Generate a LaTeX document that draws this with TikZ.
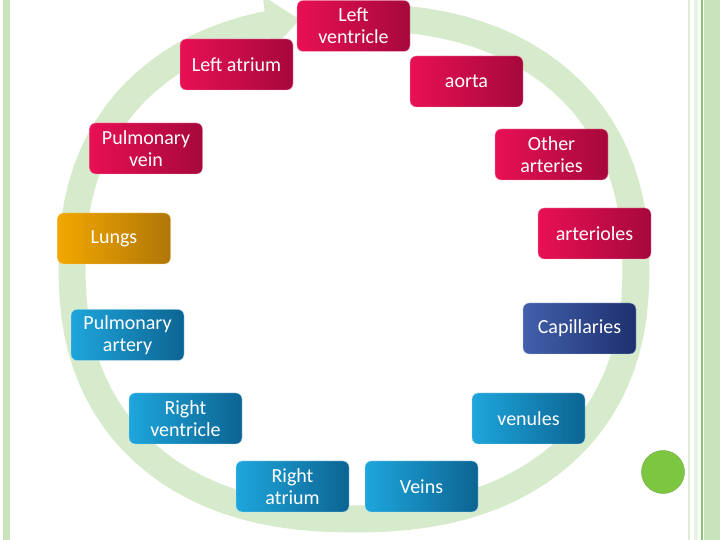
\documentclass[tikz,border=0pt]{standalone}
\usepackage{fontspec}
\setmainfont{Carlito}
\usepackage{tikz}
\usetikzlibrary{arrows.meta}
\definecolor{ringgreen}{RGB}{214,235,203}
\definecolor{stripegreen}{RGB}{201,227,188}
\definecolor{linegreen}{RGB}{136,196,106}
\definecolor{dotgreen}{RGB}{125,198,66}
\definecolor{artlight}{RGB}{232,16,84}
\definecolor{artdark}{RGB}{166,8,60}
\definecolor{venlight}{RGB}{30,166,220}
\definecolor{vendark}{RGB}{12,100,146}
\definecolor{caplight}{RGB}{66,96,172}
\definecolor{capdark}{RGB}{30,48,110}
\definecolor{lunglight}{RGB}{242,168,0}
\definecolor{lungdark}{RGB}{176,118,8}
\tikzstyle{organ}=[rectangle, rounded corners=6bp, minimum width=113bp, minimum height=51bp,
inner sep=0pt, align=center, text=white, font=\fontsize{20bp}{22bp}\selectfont]
\tikzstyle{artbox}=[organ, left color=artlight, right color=artdark, draw=artlight!35!white]
\tikzstyle{venbox}=[organ, left color=venlight, right color=vendark, draw=venlight!35!white]
\tikzstyle{capbox}=[organ, left color=caplight, right color=capdark, draw=caplight!35!white]
\tikzstyle{lungbox}=[organ, left color=lunglight, right color=lungdark, draw=lunglight!45!white]
\tikzstyle{ringband}=[ringgreen, line width=27bp, -{Triangle[width=54bp,length=34bp]}]

\begin{document}
\begin{tikzpicture}[x=1bp,y=1bp]
      \useasboundingbox (0,0) rectangle (720,540);
      \draw[ringband] plot[domain=85:-261.4, samples=97, variable=\t]
        ({354+282*cos(\t)/abs(cos(\t))^0.1304}, {272+251*sin(\t)/abs(sin(\t))^0.1304});
      \fill[stripegreen] (3,0) rectangle (10,540);
      \fill[stripegreen!60!white] (688,0) rectangle (690,540);
      \fill[stripegreen!45!white] (694,0) rectangle (698,540);
      \fill[linegreen] (701,0) rectangle (702.5,540);
      \fill[stripegreen] (704,0) rectangle (720,540);
      \node [artbox] (lv) at (353.5,514) {Left\\ventricle};
      \node [artbox] (la) at (236.5,475.5) {Left atrium};
      \node [artbox] (ao) at (466.5,458.5) {aorta};
      \node [artbox] (oa) at (551.5,385.5) {Other\\arteries};
      \node [artbox] (al) at (594.5,306.5) {arterioles};
      \node [capbox] (cp) at (579.5,211.5) {Capillaries};
      \node [venbox] (vu) at (528.5,121.5) {venules};
      \node [venbox] (vn) at (421.5,53.5) {Veins};
      \node [venbox] (ra) at (292.5,53.5) {Right\\atrium};
      \node [venbox] (rv) at (185.5,121.5) {Right\\ventricle};
      \node [venbox] (pa) at (127.5,205) {Pulmonary\\artery};
      \node [lungbox] (lu) at (114,301.5) {Lungs};
      \node [artbox] (pv) at (146,391.5) {Pulmonary\\vein};
      \fill[dotgreen, draw=dotgreen!85!black] (663,68) circle (21.5);
  \end{tikzpicture}
\end{document}
